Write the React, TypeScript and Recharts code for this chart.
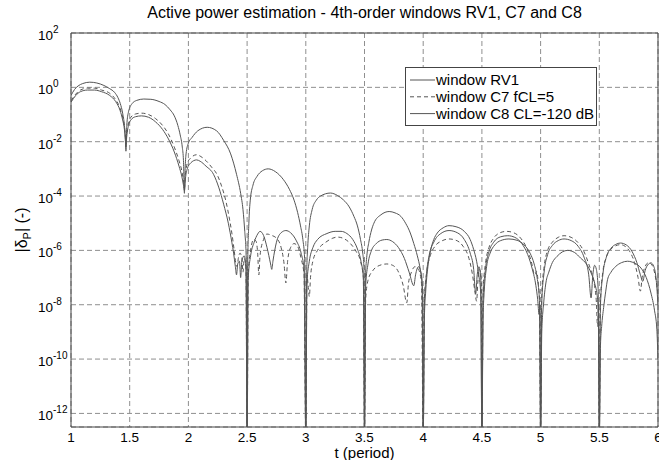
import React from 'react';
import { LineChart, Line, XAxis, YAxis, CartesianGrid, ReferenceArea, Legend } from 'recharts';

const FONT = '"Liberation Sans", Arial, Helvetica, sans-serif';

const xTicks = [1, 1.5, 2, 2.5, 3, 3.5, 4, 4.5, 5, 5.5, 6];
const yTickExps = [2, 0, -2, -4, -6, -8, -10, -12];
const yMinExp = -12.5;
const yMaxExp = 2;
const seriesNames = ['window RV1', 'window C7 fCL=5', 'window C8 CL=-120 dB'];
const titleText = 'Active power estimation - 4th-order windows RV1, C7 and C8';

// [t (period), log10 |deltaP|]
const rv1: [number, number][] = [
  [1.00, -0.30], [1.03, -0.08], [1.06, 0.05], [1.10, 0.14], [1.16, 0.19], [1.22, 0.16], [1.28, 0.07], [1.33, -0.05], [1.37, -0.18], [1.40, -0.38], [1.42, -0.60], [1.44, -0.95], [1.455, -1.40], [1.463, -1.85], [1.468, -2.35],
  [1.475, -1.40], [1.49, -0.90], [1.52, -0.60], [1.56, -0.48], [1.62, -0.43], [1.68, -0.44], [1.75, -0.52], [1.80, -0.63], [1.845, -0.83], [1.88, -1.05], [1.91, -1.40], [1.93, -1.75], [1.948, -2.20], [1.958, -2.70], [1.966, -3.90],
  [1.972, -3.0], [1.98, -2.45], [2.00, -2.05], [2.03, -1.85], [2.08, -1.60], [2.16, -1.47], [2.24, -1.60], [2.30, -1.95], [2.36, -2.45], [2.41, -3.20], [2.445, -3.90], [2.465, -4.50], [2.48, -5.30], [2.492, -6.2], [2.50, -13],
  [2.505, -6.5], [2.515, -5.0], [2.527, -4.15], [2.55, -3.6], [2.584, -3.28], [2.63, -3.07], [2.68, -3.0], [2.74, -3.1], [2.81, -3.4], [2.86, -3.75], [2.90, -4.15], [2.93, -4.6], [2.955, -5.1], [2.975, -5.6], [2.99, -6.3], [3.0, -13],
  [3.008, -6.8], [3.016, -5.9], [3.03, -5.1], [3.054, -4.5], [3.09, -4.15], [3.125, -4.0], [3.21, -3.89], [3.27, -3.98], [3.32, -4.14], [3.37, -4.4], [3.41, -4.75], [3.44, -5.1], [3.466, -5.6], [3.485, -6.1], [3.495, -6.6], [3.5, -13],
  [3.508, -7.0], [3.52, -6.2], [3.537, -5.7], [3.56, -5.25], [3.58, -5.0], [3.64, -4.69], [3.71, -4.57], [3.76, -4.62], [3.81, -4.75], [3.85, -5.0], [3.89, -5.36], [3.92, -5.75], [3.95, -6.2], [3.975, -6.7], [3.99, -7.2], [4.0, -13],
  [4.01, -8.5], [4.02, -7.6], [4.04, -6.6], [4.063, -6.0], [4.09, -5.6], [4.12, -5.36], [4.17, -5.17], [4.22, -5.09], [4.28, -5.13], [4.35, -5.3], [4.40, -5.6], [4.43, -5.97], [4.455, -6.4], [4.475, -6.95], [4.49, -7.6], [4.5, -13],
  [4.51, -8.5], [4.52, -7.5], [4.54, -6.6], [4.57, -6.1], [4.61, -5.8], [4.66, -5.64], [4.73, -5.58], [4.80, -5.63], [4.86, -5.8], [4.91, -6.1], [4.945, -6.5], [4.97, -7.0], [4.99, -7.8], [5.0, -13],
  [5.01, -9.0], [5.025, -8.0], [5.045, -7.2], [5.07, -6.8], [5.10, -6.45], [5.14, -6.22], [5.23, -6.0], [5.29, -6.08], [5.34, -6.28], [5.39, -6.5], [5.43, -6.83], [5.46, -7.2], [5.485, -7.8], [5.495, -8.6], [5.5, -13],
  [5.51, -9.5], [5.52, -8.8], [5.537, -8.1], [5.555, -7.5], [5.57, -7.08], [5.60, -6.8], [5.64, -6.59], [5.69, -6.45], [5.74, -6.4], [5.80, -6.47], [5.855, -6.65], [5.90, -7.0], [5.94, -7.57], [5.97, -8.2], [5.99, -8.9], [6.0, -10],
];

const c7: [number, number][] = [
  [1.00, -0.50], [1.04, -0.25], [1.08, -0.10], [1.14, -0.03], [1.20, -0.03], [1.26, -0.10], [1.33, -0.22], [1.38, -0.45], [1.418, -0.77], [1.44, -1.10], [1.455, -1.45], [1.462, -1.75], [1.467, -2.10],
  [1.475, -1.70], [1.49, -1.30], [1.51, -1.10], [1.55, -0.98], [1.60, -0.95], [1.66, -1.00], [1.72, -1.15], [1.78, -1.40], [1.83, -1.72], [1.88, -2.20], [1.92, -2.70], [1.945, -3.10], [1.958, -3.45], [1.966, -3.70],
  [1.975, -3.20], [1.99, -2.80], [2.02, -2.60], [2.07, -2.48], [2.10, -2.53], [2.15, -2.70], [2.20, -2.95], [2.243, -3.20], [2.28, -3.60], [2.32, -4.20], [2.35, -4.85], [2.37, -5.36], [2.39, -6.0], [2.405, -6.5], [2.415, -6.6], [2.425, -6.3], [2.44, -6.1], [2.455, -6.3], [2.465, -6.8], [2.475, -6.3], [2.49, -6.6], [2.5, -13],
  [2.51, -6.8], [2.53, -6.0], [2.555, -5.6], [2.575, -5.65], [2.59, -6.1], [2.60, -6.9], [2.61, -6.2], [2.64, -5.6], [2.67, -5.4], [2.71, -5.45], [2.75, -5.55], [2.79, -5.9], [2.815, -6.5], [2.83, -7.2], [2.845, -6.4], [2.87, -5.9], [2.90, -5.75], [2.93, -5.85], [2.96, -6.3], [2.985, -6.9], [3.0, -13],
  [3.01, -6.9], [3.02, -7.3], [3.03, -7.7], [3.04, -7.0], [3.06, -6.4], [3.10, -6.0], [3.17, -5.7], [3.23, -5.55], [3.27, -5.51], [3.32, -5.56], [3.38, -5.75], [3.43, -6.05], [3.466, -6.4], [3.49, -7.0], [3.5, -13],
  [3.51, -7.8], [3.53, -7.1], [3.57, -6.75], [3.63, -6.55], [3.69, -6.5], [3.74, -6.55], [3.79, -6.8], [3.83, -7.3], [3.86, -7.93], [3.875, -7.2], [3.90, -6.8], [3.93, -6.6], [3.96, -6.7], [3.985, -7.2], [4.0, -13],
  [4.01, -7.8], [4.03, -6.8], [4.06, -6.2], [4.10, -5.85], [4.16, -5.65], [4.22, -5.58], [4.28, -5.63], [4.34, -5.85], [4.39, -6.3], [4.42, -6.9], [4.44, -7.5], [4.455, -7.87], [4.465, -7.2], [4.48, -6.7], [4.495, -7.1], [4.5, -13],
  [4.51, -7.5], [4.53, -6.5], [4.56, -5.9], [4.60, -5.55], [4.65, -5.36], [4.71, -5.3], [4.77, -5.35], [4.83, -5.55], [4.88, -5.9], [4.92, -6.4], [4.95, -6.9], [4.965, -6.77], [4.98, -7.2], [4.99, -7.8], [5.0, -13],
  [5.01, -7.6], [5.03, -6.6], [5.06, -6.0], [5.10, -5.7], [5.15, -5.52], [5.20, -5.46], [5.26, -5.52], [5.32, -5.72], [5.37, -6.05], [5.41, -6.5], [5.44, -6.9], [5.46, -7.3], [5.475, -7.9], [5.485, -8.8], [5.492, -8.0], [5.5, -13],
  [5.51, -7.8], [5.53, -6.8], [5.56, -6.25], [5.60, -5.95], [5.64, -5.83], [5.68, -5.79], [5.72, -5.85], [5.76, -6.05], [5.80, -6.45], [5.83, -7.0], [5.85, -7.5], [5.865, -7.0], [5.89, -6.6], [5.92, -6.45], [5.95, -6.55], [5.975, -6.9], [6.0, -7.6],
];

const c8: [number, number][] = [
  [1.00, -0.55], [1.04, -0.30], [1.08, -0.16], [1.14, -0.10], [1.20, -0.10], [1.26, -0.16], [1.33, -0.30], [1.38, -0.52], [1.418, -0.85], [1.44, -1.20], [1.455, -1.55], [1.462, -1.85], [1.467, -2.20],
  [1.475, -1.80], [1.49, -1.40], [1.51, -1.20], [1.55, -1.08], [1.60, -1.05], [1.66, -1.10], [1.72, -1.27], [1.78, -1.55], [1.83, -1.90], [1.88, -2.38], [1.92, -2.90], [1.945, -3.30], [1.958, -3.60], [1.966, -3.80],
  [1.975, -3.35], [1.99, -3.00], [2.02, -2.78], [2.07, -2.67], [2.10, -2.72], [2.15, -2.90], [2.214, -3.20], [2.26, -3.70], [2.30, -4.30], [2.34, -5.00], [2.37, -5.70], [2.385, -6.1], [2.40, -6.6], [2.41, -6.9], [2.42, -6.5], [2.435, -6.4], [2.445, -7.0], [2.455, -6.4], [2.475, -6.2], [2.49, -6.7], [2.5, -13],
  [2.51, -7.0], [2.53, -6.2], [2.56, -5.7], [2.59, -5.4], [2.61, -5.3], [2.64, -5.45], [2.67, -5.9], [2.70, -6.5], [2.71, -6.7], [2.72, -6.4], [2.75, -5.7], [2.79, -5.35], [2.83, -5.27], [2.87, -5.35], [2.92, -5.65], [2.96, -6.1], [2.985, -6.7], [3.0, -13],
  [3.01, -7.2], [3.03, -6.4], [3.06, -5.9], [3.10, -5.6], [3.18, -5.38], [3.25, -5.3], [3.30, -5.3], [3.35, -5.38], [3.40, -5.6], [3.44, -5.95], [3.47, -6.4], [3.49, -7.0], [3.5, -13],
  [3.51, -7.3], [3.53, -6.5], [3.56, -6.0], [3.60, -5.75], [3.65, -5.62], [3.69, -5.6], [3.74, -5.68], [3.79, -5.9], [3.84, -6.3], [3.88, -6.8], [3.92, -7.3], [3.935, -6.9], [3.96, -6.6], [3.98, -6.8], [3.995, -7.5], [4.0, -13],
  [4.01, -8.0], [4.025, -7.0], [4.05, -6.2], [4.09, -5.7], [4.15, -5.38], [4.22, -5.27], [4.29, -5.35], [4.35, -5.6], [4.40, -6.1], [4.43, -6.7], [4.447, -7.6], [4.46, -6.9], [4.475, -6.6], [4.49, -7.0], [4.5, -13],
  [4.51, -7.8], [4.53, -6.7], [4.56, -6.05], [4.60, -5.7], [4.66, -5.5], [4.72, -5.46], [4.78, -5.52], [4.84, -5.75], [4.89, -6.15], [4.93, -6.7], [4.96, -7.3], [4.975, -7.8], [4.987, -8.36], [4.995, -8.0], [5.0, -13],
  [5.01, -7.9], [5.03, -6.8], [5.06, -6.15], [5.10, -5.82], [5.15, -5.64], [5.20, -5.58], [5.26, -5.64], [5.32, -5.85], [5.37, -6.25], [5.41, -6.9], [5.43, -7.75], [5.445, -6.9], [5.46, -6.55], [5.475, -6.7], [5.49, -7.4], [5.5, -13],
  [5.51, -8.0], [5.53, -6.9], [5.56, -6.25], [5.60, -5.92], [5.64, -5.78], [5.68, -5.73], [5.73, -5.8], [5.78, -6.05], [5.82, -6.45], [5.85, -6.9], [5.87, -7.14], [5.89, -6.75], [5.92, -6.5], [5.94, -6.46], [5.965, -6.6], [5.985, -7.1], [6.0, -8.0],
];

const toRows = (pts: [number, number][]) => pts.map(([t, e]) => ({ t, v: Math.pow(10, e) }));
const rv1Rows = toRows(rv1);
const c7Rows = toRows(c7);
const c8Rows = toRows(c8);
const yTicks = yTickExps.map((e) => Math.pow(10, e));

const LINE = '#555555';
const DASH = '4 3';

const YTick = (props: any) => {
  const { y, payload } = props;
  const e = Math.round(Math.log10(payload.value));
  return (
    <text x={38} y={y + 7} fontFamily={FONT} fontSize={13.5} fill="#000" textAnchor="start">
      10
      <tspan dy={-7} fontSize={10}>{e}</tspan>
    </text>
  );
};

const XTick = (props: any) => {
  const { x, payload } = props;
  return (
    <text x={x} y={442} fontFamily={FONT} fontSize={13.5} fill="#000" textAnchor="middle">
      {payload.value}
    </text>
  );
};

const LegendBox = () => {
  const rows = [
    { name: seriesNames[0], dash: undefined },
    { name: seriesNames[1], dash: DASH },
    { name: seriesNames[2], dash: undefined },
  ];
  return (
    <svg width={193} height={60} style={{ display: 'block' }}>
      <rect x={0.5} y={0.5} width={191} height={58} fill="#fff" stroke="#444" strokeWidth={1} />
      {rows.map((r, i) => {
        const cy = 13 + i * 16.8;
        return (
          <g key={i}>
            <line x1={5} x2={30} y1={cy} y2={cy} stroke={LINE} strokeWidth={1} strokeDasharray={r.dash} />
            <text x={31} y={cy + 5} fontFamily={FONT} fontSize={15} fill="#000">{r.name}</text>
          </g>
        );
      })}
    </svg>
  );
};

export default function App() {
  return (
    <div style={{ position: 'absolute', left: 0, top: 0, width: 659, height: 460, background: '#fff' }}>
      <LineChart width={659} height={460} margin={{ top: 33, right: 1, bottom: 0, left: 0 }}>
        <CartesianGrid stroke="#8f8f8f" strokeDasharray="5 3" />
        <XAxis
          type="number"
          dataKey="t"
          domain={[1, 6]}
          ticks={xTicks}
          allowDataOverflow
          height={33}
          tickLine={false}
          axisLine={false}
          tick={<XTick />}
          interval={0}
        />
        <YAxis
          type="number"
          scale="log"
          domain={[Math.pow(10, yMinExp), Math.pow(10, yMaxExp)]}
          ticks={yTicks}
          allowDataOverflow
          width={71}
          tickLine={false}
          axisLine={false}
          tick={<YTick />}
          interval={0}
        />
        <Line data={rv1Rows} dataKey="v" name={seriesNames[0]} type="monotone" stroke={LINE} strokeWidth={1} dot={false} isAnimationActive={false} />
        <Line data={c7Rows} dataKey="v" name={seriesNames[1]} type="monotone" stroke={LINE} strokeWidth={1} strokeDasharray={DASH} dot={false} isAnimationActive={false} />
        <Line data={c8Rows} dataKey="v" name={seriesNames[2]} type="monotone" stroke={LINE} strokeWidth={1} dot={false} isAnimationActive={false} />
        <ReferenceArea x1={1} x2={6} y1={Math.pow(10, yMinExp)} y2={Math.pow(10, yMaxExp)} fill="none" stroke="#444" strokeWidth={1} ifOverflow="visible" />
        <Legend layout="vertical" align="center" verticalAlign="middle" wrapperStyle={{ left: 405, top: 67, width: 193, height: 60 }} content={<LegendBox />} />
      </LineChart>
      <svg width={659} height={460} style={{ position: 'absolute', left: 0, top: 0, pointerEvents: 'none' }}>
        <text x={364.5} y={18} textAnchor="middle" fontFamily={FONT} fontSize={16} fill="#000">{titleText}</text>
        <text x={364.5} y={458} textAnchor="middle" fontFamily={FONT} fontSize={15} fill="#000">t (period)</text>
        <text x={27} y={230} transform="rotate(-90, 27, 230)" textAnchor="middle" fontFamily={FONT} fontSize={16} fill="#000">
          |δ<tspan dy={4} fontSize={11}>P</tspan><tspan dy={-4}>| (-)</tspan>
        </text>
      </svg>
    </div>
  );
}
